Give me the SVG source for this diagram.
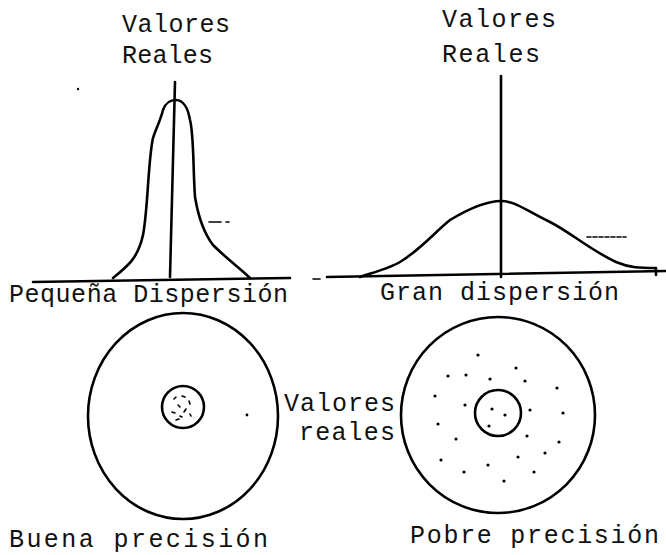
<svg xmlns="http://www.w3.org/2000/svg" width="666" height="555" viewBox="0 0 666 555">
<style>
text{font-family:"Liberation Mono","DejaVu Sans Mono",monospace;font-size:25px;fill:#111}
.ln{fill:none;stroke:#000;stroke-width:2.6;stroke-linecap:round;stroke-linejoin:round}
.th{fill:none;stroke:#000;stroke-width:1.6;stroke-linecap:round}
.dt{fill:#000}
</style>
<rect width="666" height="555" fill="#fff"/>
<g id="small-dispersion">
<text x="122" y="32" textLength="108" lengthAdjust="spacing">Valores</text>
<text x="122" y="63" textLength="91" lengthAdjust="spacing">Reales</text>
<path class="ln" d="M33,282 L290,278"/>
<path class="ln" d="M175,82 L170,277"/>
<path class="ln" d="M113,278 C128,266 138,258 143,235 C148,210 148,160 153,138 C156,128 160,122 163,110 C166,102 170,100 176,100 C183,100 188,108 190,120 C194,135 193,170 195,197 C198,215 203,232 213,245 C228,260 240,268 250,278"/>
<path class="th" d="M209,222 L221,222 M226,222 L229,222"/>
<circle class="dt" cx="78" cy="89" r="1.2"/>
<path class="th" d="M313,279 L320,279"/>
<text x="9" y="302" textLength="279" lengthAdjust="spacing">Pequeña Dispersión</text>
</g>
<g id="large-dispersion">
<text x="442" y="27" textLength="114" lengthAdjust="spacing">Valores</text>
<text x="442" y="62" textLength="98" lengthAdjust="spacing">Reales</text>
<path class="ln" d="M327,277 L666,271"/>
<path class="ln" d="M501,76 L501,277"/>
<path class="ln" d="M360,277 C375,272 390,268 400,262 C420,250 435,232 450,220 C470,208 488,201 501,201 C515,201 525,210 550,222 C570,232 590,250 616,262 C630,268 640,268 656,268 L656,275"/>
<path class="th" d="M587,237 L626,237" stroke-dasharray="4 2"/>
<text x="380" y="300" textLength="239" lengthAdjust="spacing">Gran dispersión</text>
</g>
<g id="good-precision">
<ellipse class="ln" cx="183" cy="416" rx="95" ry="103"/>
<circle class="ln" cx="183" cy="407" r="21"/>
<g class="th">
<path d="M174,399 l2,-2 M182,396 l3,1 M189,401 l1,3 M178,405 l2,2 M186,409 l-2,3 M172,412 l3,1 M180,416 l2,1 M190,414 l1,2 M176,420 l3,-1"/>
</g>
<circle class="dt" cx="247" cy="415" r="1.4"/>
<text x="9" y="547" textLength="259" lengthAdjust="spacing">Buena precisión</text>
</g>
<g id="real-values-label">
<text x="284" y="411" textLength="111" lengthAdjust="spacing">Valores</text>
<text x="299" y="440" textLength="96" lengthAdjust="spacing">reales</text>
</g>
<g id="poor-precision">
<ellipse class="ln" cx="498" cy="415" rx="97" ry="98"/>
<circle class="ln" cx="498" cy="413" r="23"/>
<g class="dt">
<circle cx="478" cy="355" r="1.6"/><circle cx="448" cy="376" r="1.6"/><circle cx="466" cy="375" r="1.6"/>
<circle cx="490" cy="379" r="1.6"/><circle cx="516" cy="368" r="1.6"/><circle cx="525" cy="381" r="1.6"/>
<circle cx="557" cy="388" r="1.6"/><circle cx="435" cy="396" r="1.6"/><circle cx="465" cy="405" r="1.6"/>
<circle cx="492" cy="409" r="1.6"/><circle cx="505" cy="415" r="1.6"/><circle cx="489" cy="426" r="1.6"/>
<circle cx="530" cy="410" r="1.6"/><circle cx="563" cy="413" r="1.6"/><circle cx="438" cy="424" r="1.6"/>
<circle cx="527" cy="436" r="1.6"/><circle cx="456" cy="439" r="1.6"/><circle cx="559" cy="442" r="1.6"/>
<circle cx="518" cy="457" r="1.6"/><circle cx="545" cy="453" r="1.6"/><circle cx="441" cy="460" r="1.6"/>
<circle cx="488" cy="465" r="1.6"/><circle cx="464" cy="472" r="1.6"/><circle cx="534" cy="472" r="1.6"/>
<circle cx="504" cy="481" r="1.6"/>
</g>
<text x="410" y="543" textLength="249" lengthAdjust="spacing">Pobre precisión</text>
</g>
</svg>
